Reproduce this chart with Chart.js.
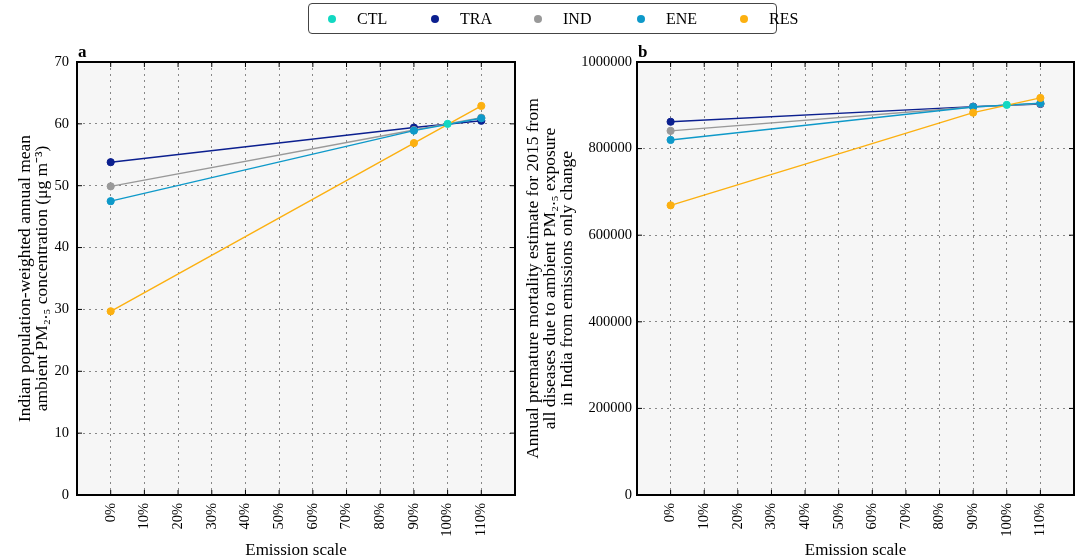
<!DOCTYPE html>
<html><head><meta charset="utf-8">
<script src="https://cdn.jsdelivr.net/npm/chart.js@4.4.0/dist/chart.umd.min.js"></script>
<style>
html,body{margin:0;padding:0;background:#fff;width:1081px;height:560px;overflow:hidden;font-family:"Liberation Serif",serif;}
#wa{position:absolute;left:0;top:0;width:520px;height:560px;}
#wb{position:absolute;left:520px;top:0;width:561px;height:560px;}
#legend{position:absolute;left:308px;top:3px;width:467px;height:29px;border:1.5px solid #444;border-radius:4px;background:#fff;z-index:5;}
.li{position:absolute;top:0;height:29px;line-height:29px;font-size:16px;color:#000;}
.dot{position:absolute;width:8px;height:8px;border-radius:50%;top:11px;}
</style></head><body>
<div id="legend"></div>
<div id="wa"><canvas id="ca"></canvas></div>
<div id="wb"><canvas id="cb"></canvas></div>
<script>
// ---- data ----
const seriesNames = ['CTL','TRA','IND','ENE','RES'];
const seriesColors = ['#12d8c2','#0b1f8f','#999999','#0e99c9','#fcb010'];
const xTickValues = [0,10,20,30,40,50,60,70,80,90,100,110];
const xTickLabels = ['0%','10%','20%','30%','40%','50%','60%','70%','80%','90%','100%','110%'];
// emission scale (%) for each series
const ctlX = [100];
const sectorX = [0,90,110];
// panel a: PM2.5 concentration
const ctlA = [60.0];
const traA = [53.8,59.4,60.5];
const indA = [49.9,59.0,61.0];
const eneA = [47.5,58.9,60.9];
const resA = [29.7,56.9,62.9];
const yTicksA = [0,10,20,30,40,50,60,70];
// panel b: premature mortality
const ctlB = [901000];
const traB = [862000,897000,903000];
const indB = [841000,896000,904000];
const eneB = [820000,896000,905000];
const resB = [669000,883000,917000];
const yTicksB = [0,200000,400000,600000,800000,1000000];

// ---- legend ----
const lg = document.getElementById('legend');
seriesNames.forEach((n,i)=>{
  const base = 14 + i*103;
  const d = document.createElement('div'); d.className='dot';
  d.style.left = (base+5)+'px'; d.style.background = seriesColors[i];
  lg.appendChild(d);
  const t = document.createElement('div'); t.className='li';
  t.style.left = (base+34)+'px'; t.textContent = n;
  lg.appendChild(t);
});

const FONT = "'Liberation Serif', serif";

function pts(xs, ys){ return xs.map((x,i)=>({x:x,y:ys[i]})); }

function mkDatasets(ctl,tra,ind,ene,res){
  const arr=[ctl,tra,ind,ene,res];
  const xs=[ctlX,sectorX,sectorX,sectorX,sectorX];
  const orders=[0,4,3,2,1];
  return arr.map((d,i)=>({
    label: seriesNames[i],
    data: pts(xs[i], d),
    borderColor: seriesColors[i],
    backgroundColor: seriesColors[i],
    pointBackgroundColor: seriesColors[i],
    pointBorderColor: seriesColors[i],
    pointRadius: 3.6,
    pointBorderWidth: 1,
    borderWidth: 1.4,
    showLine: true,
    order: orders[i],
    tension: 0
  }));
}

const framePlugin = {
  id:'frame',
  beforeDraw(chart){
    const {ctx, chartArea:a} = chart;
    ctx.save(); ctx.fillStyle='#f6f6f6';
    ctx.fillRect(a.left,a.top,a.right-a.left,a.bottom-a.top); ctx.restore();
  },
  afterDraw(chart){
    const {ctx, chartArea:a, scales} = chart;
    ctx.save();
    ctx.strokeStyle='#000'; ctx.lineWidth=1;
    const L=5;
    scales.x.ticks.forEach(t=>{
      const px=scales.x.getPixelForValue(t.value);
      ctx.beginPath(); ctx.moveTo(px,a.bottom); ctx.lineTo(px,a.bottom-L);
      ctx.moveTo(px,a.top); ctx.lineTo(px,a.top+L); ctx.stroke();
    });
    scales.y.ticks.forEach(t=>{
      const py=scales.y.getPixelForValue(t.value);
      ctx.beginPath(); ctx.moveTo(a.left,py); ctx.lineTo(a.left+L,py);
      ctx.moveTo(a.right,py); ctx.lineTo(a.right-L,py); ctx.stroke();
    });
    ctx.lineWidth=2;
    ctx.strokeRect(a.left,a.top,a.right-a.left,a.bottom-a.top);
    ctx.fillStyle='#000';
    ctx.font="bold 17px "+FONT;
    ctx.textBaseline='alphabetic'; ctx.textAlign='left';
    ctx.fillText(chart.options.plugins.frame.label, a.left+1, a.top-5);
    ctx.restore();
  }
};

function mkChart(id, datasets, yTicks, yMax, yTitle, yWidth, yTitlePad, yTickPad, padRight, label){
  return new Chart(document.getElementById(id), {
    type:'scatter',
    data:{datasets},
    plugins:[framePlugin],
    options:{
      responsive:true, maintainAspectRatio:false, animation:false,
      layout:{padding:{top:62,right:padRight,left:0,bottom:0}},
      plugins:{legend:{display:false}, tooltip:{enabled:false}, frame:{label}},
      scales:{
        x:{
          type:'linear', min:-10, max:120,
          afterBuildTicks(s){ s.ticks = xTickValues.map(v=>({value:v})); },
          afterFit(s){ s.height = 65; },
          ticks:{ callback:(v)=>{const i=xTickValues.indexOf(v); return i>=0?xTickLabels[i]:'';},
            minRotation:90, maxRotation:90, padding:8, color:'#000',
            font:{family:FONT,size:14.5} },
          grid:{ color:'#888', lineWidth:1, drawTicks:false },
          border:{ display:false, dash:[2,4] },
          title:{ display:true, text:'Emission scale', color:'#000',
            font:{family:FONT,size:17,lineHeight:1.0}, padding:{top:0,bottom:1} }
        },
        y:{
          type:'linear', min:0, max:yMax,
          afterBuildTicks(s){ s.ticks = yTicks.map(v=>({value:v})); },
          afterFit(s){ s.width = yWidth; },
          ticks:{ callback:(v)=>String(v), padding:yTickPad, color:'#000',
            font:{family:FONT,size:14.5} },
          grid:{ color:'#888', lineWidth:1, drawTicks:false },
          border:{ display:false, dash:[2,4] },
          title:{ display:true, text:yTitle, color:'#000',
            font:{family:FONT,size:17.5,lineHeight:0.98}, padding:{top:yTitlePad,bottom:0} }
        }
      }
    }
  });
}

mkChart('ca', mkDatasets(ctlA,traA,indA,eneA,resA), yTicksA, 70,
  ['Indian population-weighted annual mean','ambient PM\u2082.\u2085 concentration (\u03bcg m\u207b\u00b3)'],
  77, 17, 8, 5, 'a');
mkChart('cb', mkDatasets(ctlB,traB,indB,eneB,resB), yTicksB, 1000000,
  ['Annual premature mortality estimate for 2015 from','all diseases due to ambient PM\u2082.\u2085 exposure','in India from emissions only change'],
  117, 5, 5, 7, 'b');
</script>
</body></html>
